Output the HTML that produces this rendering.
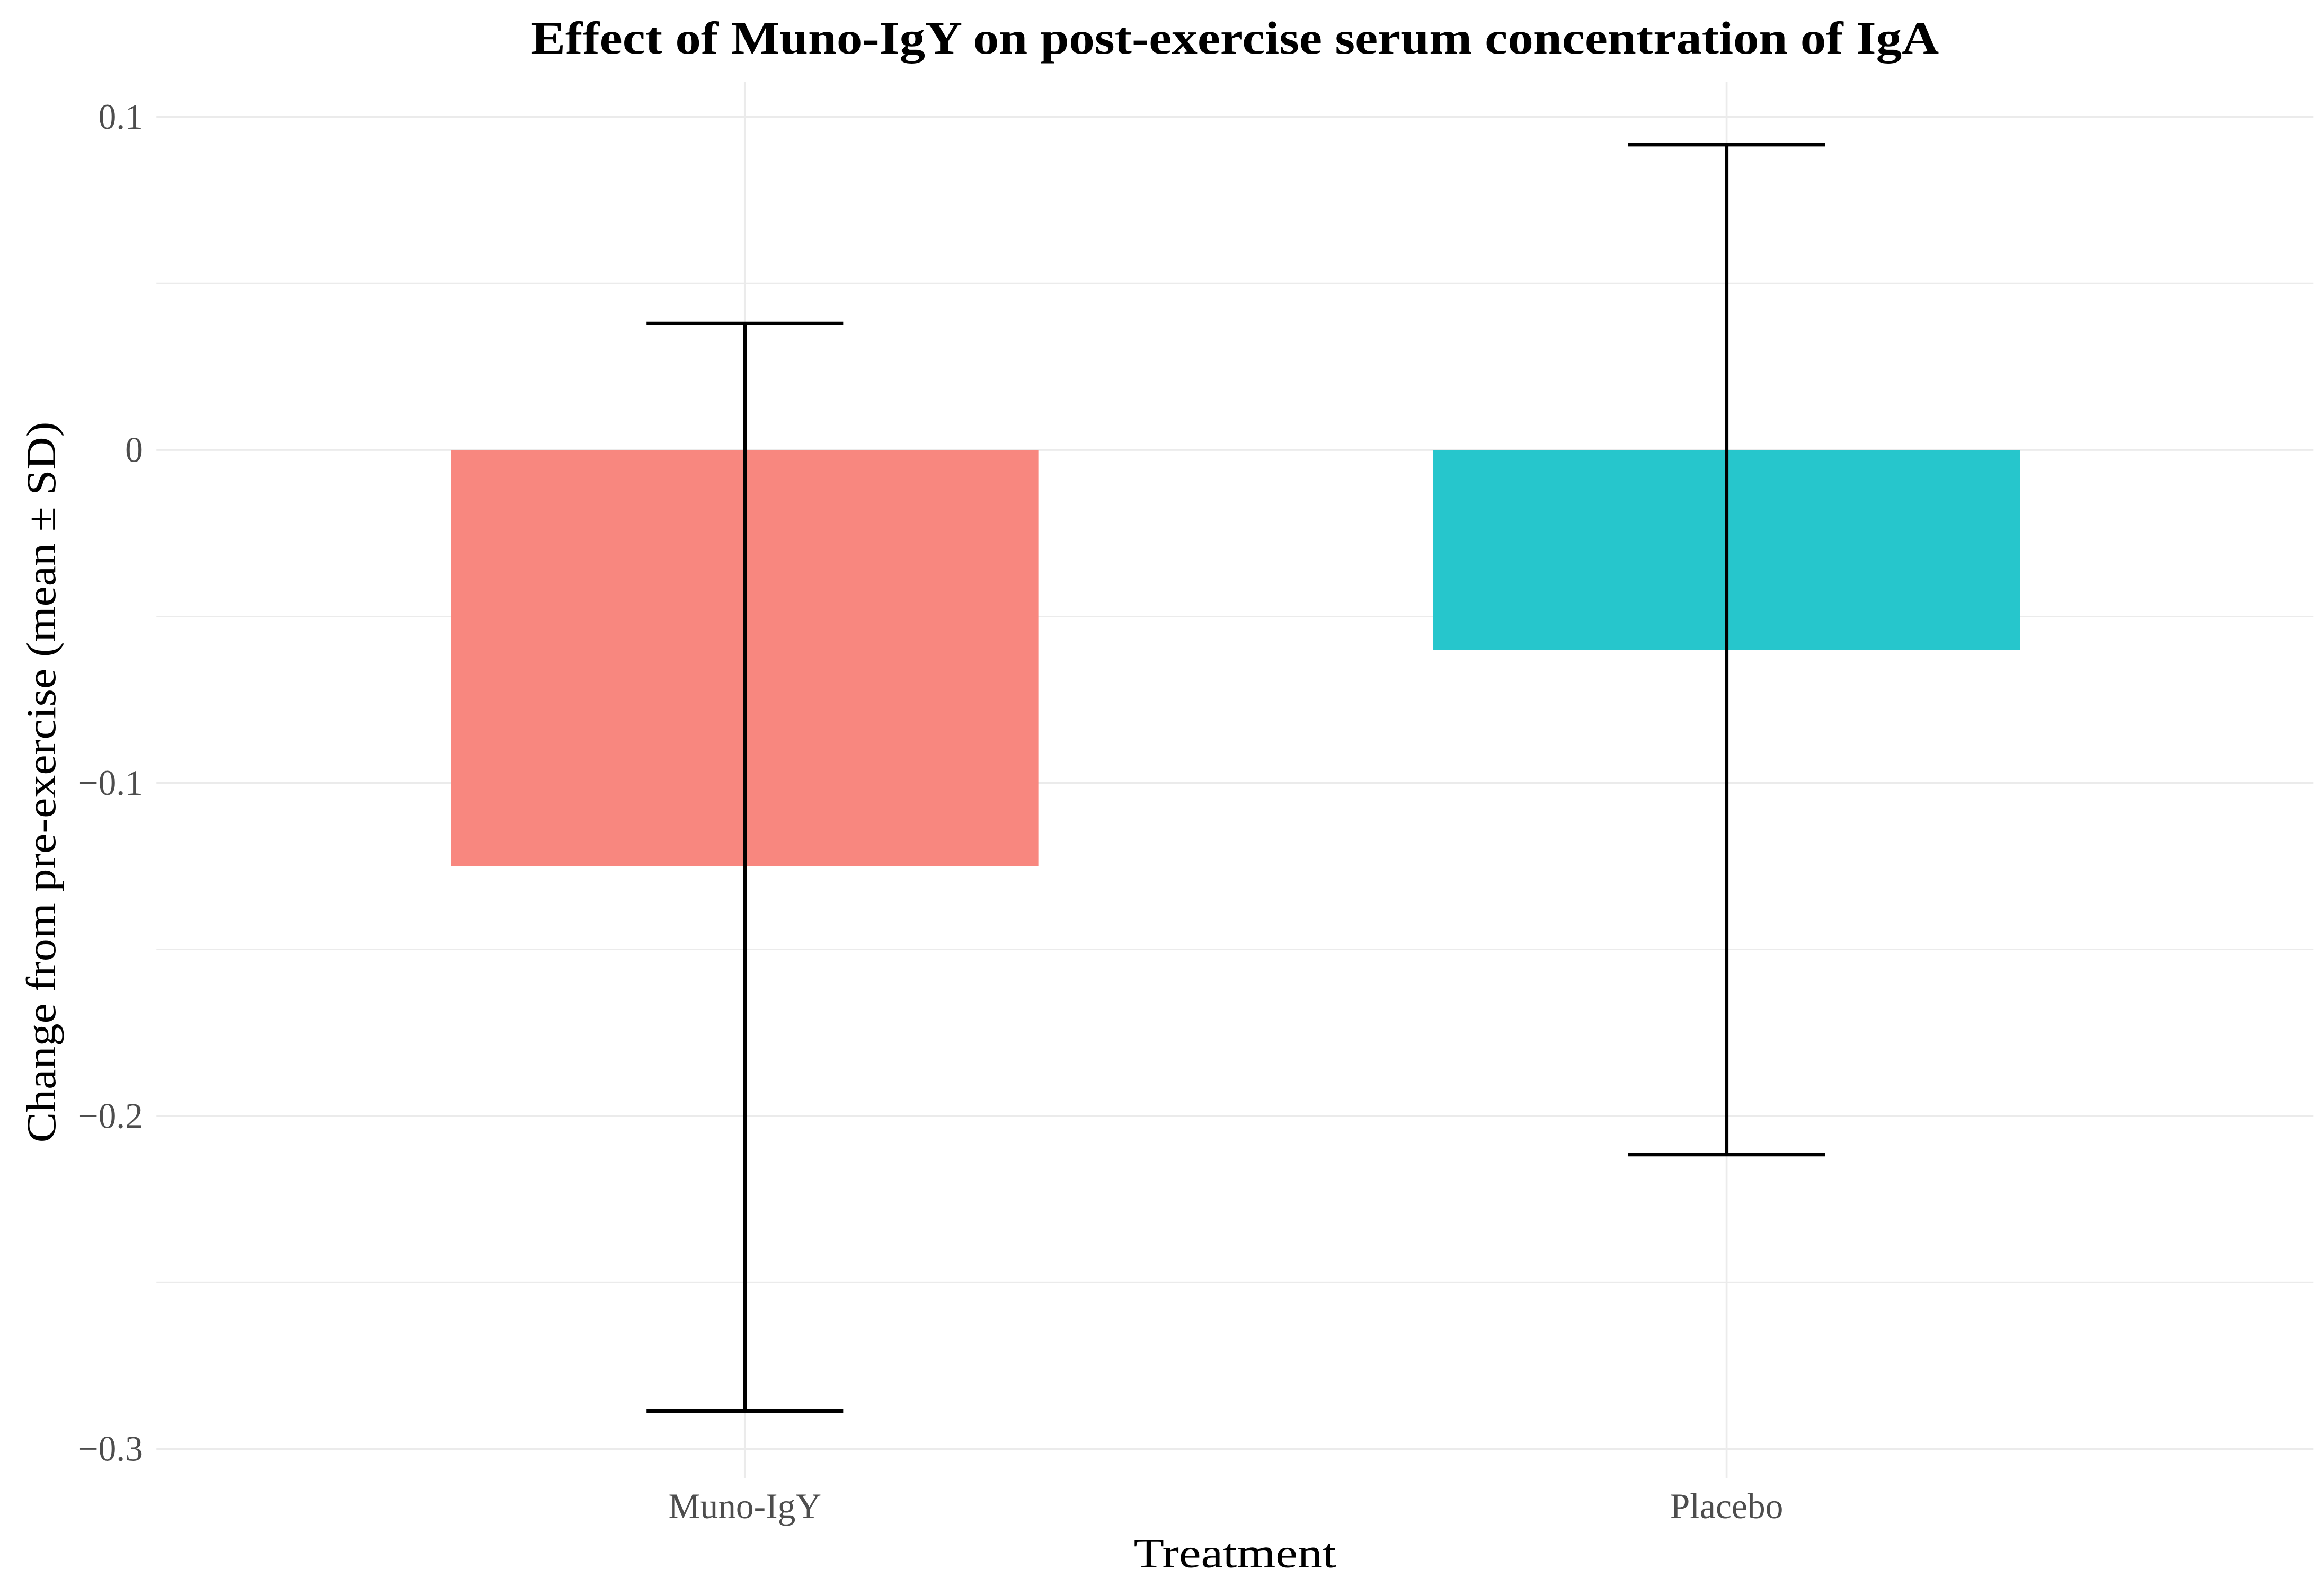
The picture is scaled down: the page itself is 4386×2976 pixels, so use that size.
<!DOCTYPE html>
<html><head><meta charset="utf-8"><style>
html,body{margin:0;padding:0;background:#fff;}
svg{display:block;font-family:"Liberation Serif",serif;}
</style></head><body>
<svg id="chart" width="4386" height="2976" viewBox="0 0 1560 1058.5" xmlns="http://www.w3.org/2000/svg">
<rect width="1560" height="1058.5" fill="#fff"/>
<text x="829" y="36" text-anchor="middle" font-size="31" font-weight="bold" fill="#000" textLength="945" lengthAdjust="spacingAndGlyphs">Effect of Muno-IgY on post-exercise serum concentration of IgA</text>
<g id="grid"></g>
<g id="bars"></g>
<g id="errs"></g>
<g id="yticks"></g>
<g id="xticks"></g>
<text x="829" y="1052" text-anchor="middle" font-size="28" fill="#000" textLength="136" lengthAdjust="spacingAndGlyphs">Treatment</text>
<text transform="translate(37,525) rotate(-90)" text-anchor="middle" font-size="28" fill="#000" textLength="484" lengthAdjust="spacingAndGlyphs">Change from pre-exercise (mean ± SD)</text>
</svg>
<script>
const categories = ["Muno-IgY", "Placebo"];
const means = [-0.125, -0.06];
const upper = [0.038, 0.0917];
const lower = [-0.2886, -0.2116];
const yTicks = [0.1, 0, -0.1, -0.2, -0.3];
const yTickLabels = ["0.1", "0", "\u22120.1", "\u22120.2", "\u22120.3"];
const colors = ["#F8877F", "#26C6CC"];

const NS = "http://www.w3.org/2000/svg";
const yScale = v => 302 - v * 2235;
const xScale = i => 500 + i * 659;
const bw = 394;
function mk(tag, attrs, parent) {
  const e = document.createElementNS(NS, tag);
  for (const k in attrs) e.setAttribute(k, attrs[k]);
  parent.appendChild(e);
  return e;
}
const grid = document.getElementById('grid');
for (let v = 0.1; v >= -0.3001; v -= 0.05) {
  const major = Math.abs(Math.round(v * 10) - v * 10) < 1e-6;
  const l = mk('line', {x1: 105, x2: 1553, y1: yScale(v), y2: yScale(v), stroke: '#ebebeb', 'stroke-width': major ? 1.3 : 0.8}, grid);
  
  
}
categories.forEach((c, i) => {
  const l = mk('line', {x1: xScale(i), x2: xScale(i), y1: 55, y2: 992, stroke: '#ebebeb', 'stroke-width': 1.3}, grid);
  
  
});
const bars = document.getElementById('bars');
const errs = document.getElementById('errs');
categories.forEach((c, i) => {
  const y0 = yScale(0), y1 = yScale(means[i]);
  const r = mk('rect', {x: xScale(i) - bw / 2, y: Math.min(y0, y1), width: bw, height: Math.abs(y1 - y0), fill: colors[i]}, bars);
  
  
  const g = mk('g', {stroke: '#000', 'stroke-width': 2.5}, errs);
  
  
  const x = xScale(i);
  mk('line', {x1: x, x2: x, y1: yScale(upper[i]), y2: yScale(lower[i])}, g);
  mk('line', {x1: x - 66, x2: x + 66, y1: yScale(upper[i]), y2: yScale(upper[i])}, g);
  mk('line', {x1: x - 66, x2: x + 66, y1: yScale(lower[i]), y2: yScale(lower[i])}, g);
});
const yt = document.getElementById('yticks');
yTicks.forEach((v, i) => {
  const t = mk('text', {x: 96, y: yScale(v) + 8, 'text-anchor': 'end', 'font-size': 24, fill: '#4d4d4d'}, yt);
  t.textContent = yTickLabels[i];
  
  
});
const xt = document.getElementById('xticks');
categories.forEach((c, i) => {
  const t = mk('text', {x: xScale(i), y: 1019, 'text-anchor': 'middle', 'font-size': 24, fill: '#4d4d4d'}, xt);
  t.textContent = c;
  
  
});
</script>
</body></html>
